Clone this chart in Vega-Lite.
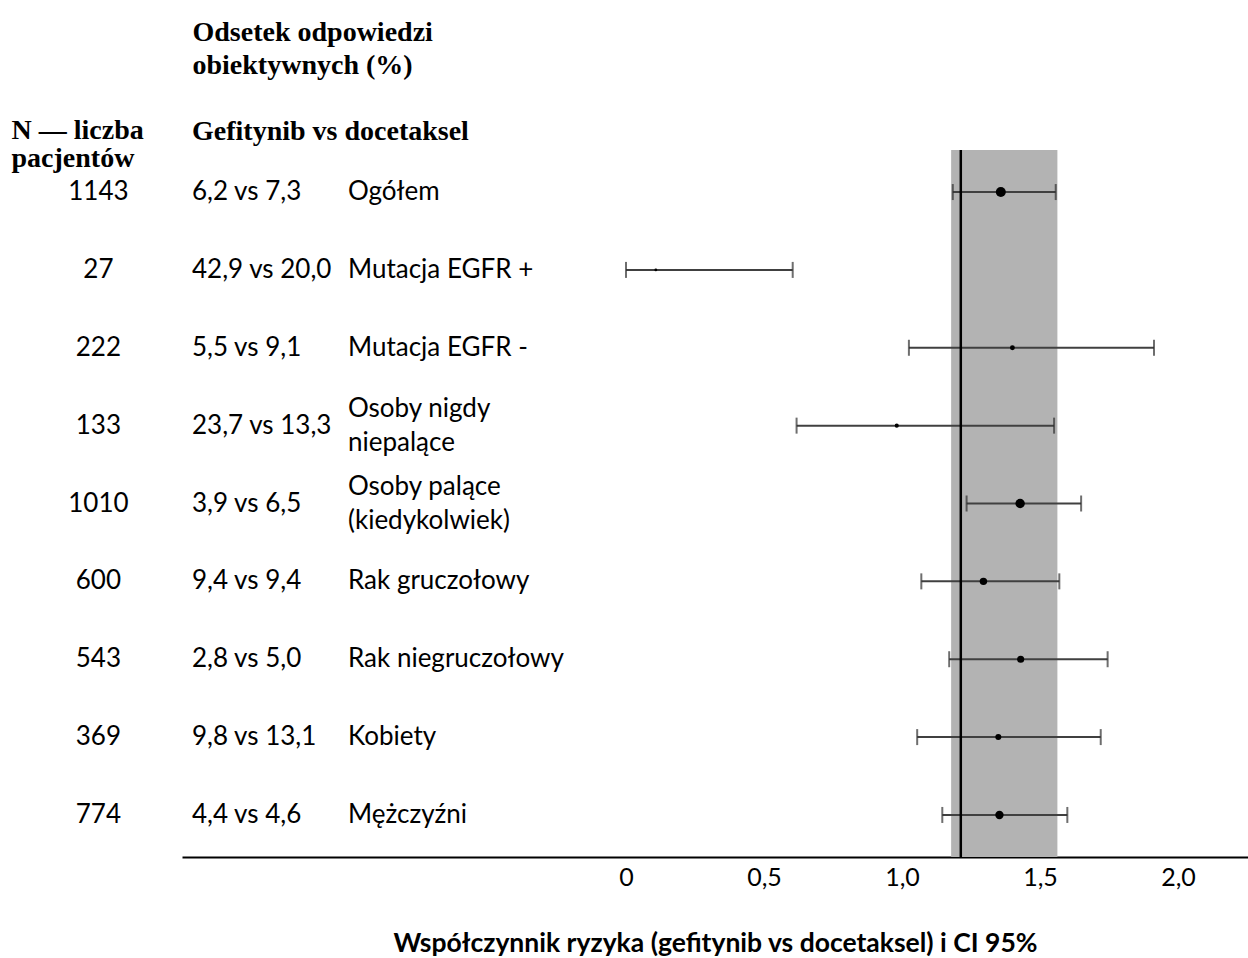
{
  "$schema": "https://vega.github.io/schema/vega-lite/v6.json",
  "width": 1066,
  "height": 707,
  "autosize": {"type": "none"},
  "padding": {"left": 182, "top": 150, "right": 0, "bottom": 101},
  "background": "white",
  "config": {"view": {"stroke": null}, "font": "Lato"},
  "datasets": {
    "podgrupy": [
      {"nr": 1, "grupa": "Ogółem", "N": 1143, "orr": "6,2 vs 7,3", "hr": 1.358, "lo": 1.184, "hi": 1.557},
      {"nr": 2, "grupa": "Mutacja EGFR +", "N": 27, "orr": "42,9 vs 20,0", "hr": 0.108, "lo": 0.0, "hi": 0.604},
      {"nr": 3, "grupa": "Mutacja EGFR -", "N": 222, "orr": "5,5 vs 9,1", "hr": 1.4, "lo": 1.025, "hi": 1.913},
      {"nr": 4, "grupa": ["Osoby nigdy", "niepalące"], "N": 133, "orr": "23,7 vs 13,3", "hr": 0.981, "lo": 0.618, "hi": 1.551},
      {"nr": 5, "grupa": ["Osoby palące", "(kiedykolwiek)"], "N": 1010, "orr": "3,9 vs 6,5", "hr": 1.428, "lo": 1.234, "hi": 1.649},
      {"nr": 6, "grupa": "Rak gruczołowy", "N": 600, "orr": "9,4 vs 9,4", "hr": 1.295, "lo": 1.07, "hi": 1.57},
      {"nr": 7, "grupa": "Rak niegruczołowy", "N": 543, "orr": "2,8 vs 5,0", "hr": 1.43, "lo": 1.171, "hi": 1.745},
      {"nr": 8, "grupa": "Kobiety", "N": 369, "orr": "9,8 vs 13,1", "hr": 1.349, "lo": 1.055, "hi": 1.72},
      {"nr": 9, "grupa": "Mężczyźni", "N": 774, "orr": "4,4 vs 4,6", "hr": 1.353, "lo": 1.146, "hi": 1.599}
    ],
    "odniesienie": [
      {"linia": 1.213, "od": 1.178, "do": 1.563}
    ]
  },
  "resolve": {"scale": {"x": "independent"}, "axis": {"x": "independent"}},
  "layer": [
    {
      "data": {"name": "podgrupy"},
      "layer": [
        {
          "transform": [{"fold": ["N"], "as": ["kolumna", "wartosc"]}],
          "mark": {"type": "text", "align": "center", "baseline": "middle", "fontSize": 26, "font": "Lato", "color": "black"},
          "encoding": {
            "y": {
              "field": "nr", "type": "ordinal",
              "scale": {"type": "point", "padding": 0.54},
              "axis": {
                "labels": false, "ticks": false, "domain": false,
                "title": ["N — liczba", "pacjentów"],
                "titleAngle": 0, "titleAlign": "left", "titleBaseline": "alphabetic",
                "titleX": -171, "titleY": -12,
                "titleFont": "Liberation Serif", "titleFontSize": 28, "titleFontWeight": "bold",
                "titleColor": "black", "titleLineHeight": 28
              }
            },
            "x": {
              "field": "kolumna", "type": "nominal", "bandPosition": 0.4,
              "scale": {"type": "band", "domain": ["N", "orr", "grupa"], "range": [-146, 322], "paddingInner": 0, "paddingOuter": 0},
              "axis": {
                "orient": "top", "domain": false, "ticks": false, "tickSize": 0,
                "labelOffset": -78, "labelPadding": 5, "labelAlign": "left", "labelBaseline": "bottom",
                "labelExpr": "datum.value == 'orr' ? 'Gefitynib vs docetaksel' : ''",
                "labelFont": "Liberation Serif", "labelFontSize": 28, "labelFontWeight": "bold",
                "labelColor": "black", "labelLimit": 0,
                "labelBound": false, "labelOverlap": false, "labelFlush": false, "labelAngle": 0,
                "title": ["Odsetek odpowiedzi", "obiektywnych (%)"],
                "titleAnchor": "start", "titleAlign": "left", "titleBaseline": "alphabetic",
                "titleX": 10, "titleY": -110,
                "titleFont": "Liberation Serif", "titleFontSize": 28, "titleFontWeight": "bold",
                "titleColor": "black", "titleLineHeight": 33
              }
            },
            "text": {"field": "wartosc", "type": "nominal"}
          }
        },
        {
          "transform": [{"fold": ["orr"], "as": ["kolumna", "wartosc"]}],
          "mark": {"type": "text", "align": "left", "baseline": "middle", "fontSize": 26, "font": "Lato", "color": "black"},
          "encoding": {
            "y": {"field": "nr", "type": "ordinal"},
            "x": {"field": "kolumna", "type": "nominal", "bandPosition": 0},
            "text": {"field": "wartosc", "type": "nominal"}
          }
        },
        {
          "transform": [
            {"filter": "!isArray(datum.grupa)"},
            {"fold": ["grupa"], "as": ["kolumna", "wartosc"]}
          ],
          "mark": {"type": "text", "align": "left", "baseline": "middle", "fontSize": 26, "font": "Lato", "color": "black"},
          "encoding": {
            "y": {"field": "nr", "type": "ordinal"},
            "x": {"field": "kolumna", "type": "nominal", "bandPosition": 0},
            "text": {"field": "wartosc", "type": "nominal"}
          }
        },
        {
          "transform": [
            {"filter": "isArray(datum.grupa)"},
            {"fold": ["grupa"], "as": ["kolumna", "wartosc"]}
          ],
          "mark": {"type": "text", "align": "left", "baseline": "middle", "fontSize": 26, "font": "Lato", "color": "black", "lineHeight": 34, "dy": -17},
          "encoding": {
            "y": {"field": "nr", "type": "ordinal"},
            "x": {"field": "kolumna", "type": "nominal", "bandPosition": 0},
            "text": {"field": "wartosc", "type": "nominal"}
          }
        }
      ]
    },
    {
      "layer": [
        {
          "data": {"name": "odniesienie"},
          "mark": {"type": "rect", "color": "#b3b3b3"},
          "encoding": {
            "x": {
              "field": "od", "type": "quantitative",
              "scale": {"domain": [-1.6087, 2.2536], "nice": false, "zero": false},
              "axis": {
                "orient": "bottom", "values": [0, 0.5, 1, 1.5, 2],
                "labelExpr": "datum.value == 0 ? '0' : replace(format(datum.value, '.1f'), '.', ',')",
                "grid": false, "ticks": false, "tickSize": 0,
                "domainColor": "black", "domainWidth": 2,
                "labelFont": "Lato", "labelFontSize": 25, "labelColor": "black", "labelPadding": 8,
                "labelFlush": false, "labelOverlap": false,
                "title": "Współczynnik ryzyka (gefitynib vs docetaksel) i CI 95%",
                "titleFont": "Lato", "titleFontSize": 26.5, "titleFontWeight": "bold", "titleColor": "black",
                "titlePadding": 40
              }
            },
            "x2": {"field": "do"}
          }
        },
        {
          "data": {"name": "podgrupy"},
          "mark": {"type": "rule", "color": "#404040", "strokeWidth": 2},
          "encoding": {
            "x": {"field": "lo", "type": "quantitative"},
            "x2": {"field": "hi"},
            "y": {"field": "nr", "type": "ordinal"}
          }
        },
        {
          "data": {"name": "podgrupy"},
          "mark": {"type": "tick", "color": "#303030", "thickness": 2, "size": 16, "orient": "vertical"},
          "encoding": {
            "x": {"field": "lo", "type": "quantitative"},
            "y": {"field": "nr", "type": "ordinal"}
          }
        },
        {
          "data": {"name": "podgrupy"},
          "mark": {"type": "tick", "color": "#303030", "thickness": 2, "size": 16, "orient": "vertical"},
          "encoding": {
            "x": {"field": "hi", "type": "quantitative"},
            "y": {"field": "nr", "type": "ordinal"}
          }
        },
        {
          "data": {"name": "odniesienie"},
          "mark": {"type": "rule", "color": "black", "strokeWidth": 2.5},
          "encoding": {
            "x": {"field": "linia", "type": "quantitative"}
          }
        },
        {
          "data": {"name": "podgrupy"},
          "mark": {"type": "circle", "color": "black", "opacity": 1},
          "encoding": {
            "x": {"field": "hr", "type": "quantitative"},
            "y": {"field": "nr", "type": "ordinal"},
            "size": {"field": "N", "type": "quantitative", "scale": {"domain": [0, 1143], "range": [6, 100]}, "legend": null}
          }
        }
      ]
    }
  ]
}
